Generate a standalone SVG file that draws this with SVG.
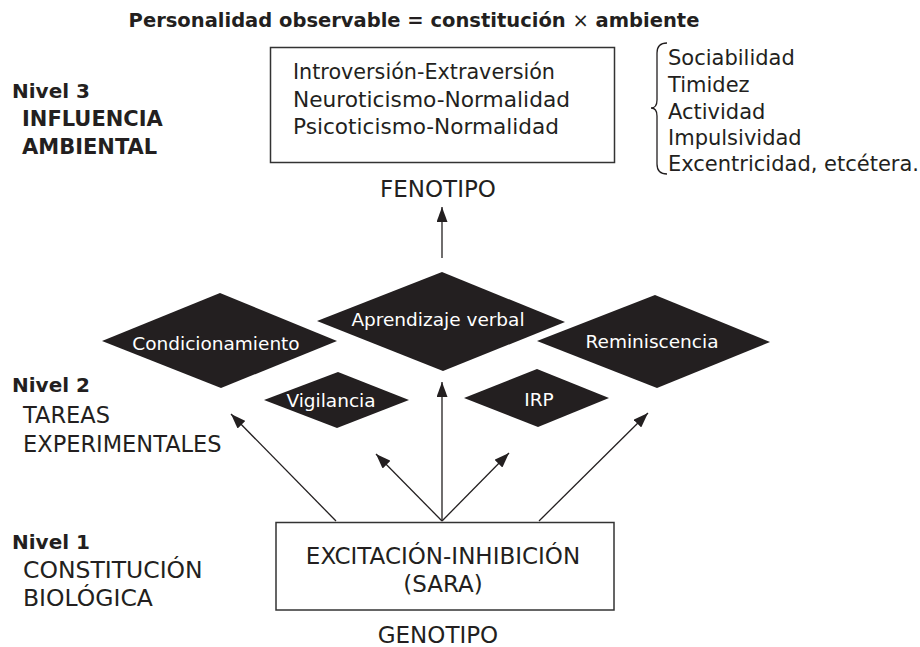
<svg xmlns="http://www.w3.org/2000/svg" width="920" height="647" viewBox="0 0 920 647">
  <style>
    text { font-family: "DejaVu Sans", "Liberation Sans", sans-serif; fill: #231f20; }
    .b { font-weight: bold; }
    .t { font-size: 21px; }
    .lg { font-size: 23px; }
    .lab { font-size: 22.5px; }
    .lab2 { font-size: 23.5px; }
    .lb { font-size: 20px; font-weight: bold; }
    .lb2 { font-size: 21px; font-weight: bold; }
    .dm { font-size: 18.5px; fill: #ffffff; text-anchor: middle; }
    .c { text-anchor: middle; }
    .box { fill: #ffffff; stroke: #333333; stroke-width: 1.5; }
    .dia { fill: #231f20; stroke: none; }
    .conn { stroke: #231f20; stroke-width: 1.3; fill: none; }
  </style>
  <defs>
    <marker id="ah" markerUnits="userSpaceOnUse" markerWidth="15" markerHeight="11" refX="15" refY="5.5" orient="auto">
      <path d="M0,0 L15,5.5 L0,11 Z" fill="#231f20"/>
    </marker>
  </defs>
  <rect width="920" height="647" fill="#ffffff"/>

  <text id="title" class="b" x="414" y="27" font-size="19.5" text-anchor="middle">Personalidad observable = constitución <tspan font-weight="normal">×</tspan> ambiente</text>

  <g id="levels">
    <text class="lb" x="12" y="98">Nivel 3</text>
    <text class="lb2" x="22" y="126">INFLUENCIA</text>
    <text class="lb2" x="22" y="154">AMBIENTAL</text>
    <text class="lb" x="12" y="392">Nivel 2</text>
    <text class="lab" x="23" y="423">TAREAS</text>
    <text class="lab" x="23" y="452">EXPERIMENTALES</text>
    <text class="lb" x="12" y="549">Nivel 1</text>
    <text class="lab2" x="23" y="578">CONSTITUCIÓN</text>
    <text class="lab2" x="23" y="606">BIOLÓGICA</text>
  </g>

  <g id="fenotipo">
    <rect class="box" x="270.5" y="47.5" width="344" height="115"/>
    <text class="t" x="293" y="79" textLength="262" lengthAdjust="spacingAndGlyphs">Introversión-Extraversión</text>
    <text class="t" x="293" y="106.5" textLength="277" lengthAdjust="spacingAndGlyphs">Neuroticismo-Normalidad</text>
    <text class="t" x="293" y="134" textLength="266" lengthAdjust="spacingAndGlyphs">Psicoticismo-Normalidad</text>
    <text class="lg c" x="438" y="197">FENOTIPO</text>
  </g>

  <g id="rasgos">
    <path class="conn" d="M667,43 Q657,43 657,53 L657,100 Q657,108 651,108 Q657,108 657,116 L657,164 Q657,174 667,174"/>
    <text class="t" x="668" y="65">Sociabilidad</text>
    <text class="t" x="668" y="92">Timidez</text>
    <text class="t" x="668" y="119">Actividad</text>
    <text class="t" x="668" y="145">Impulsividad</text>
    <text class="t" x="668" y="171">Excentricidad, etcétera.</text>
  </g>

  <g id="condicionamiento">
    <polygon class="dia" points="102,341 220,293 337,341 221,388"/>
    <text class="dm" x="216" y="350">Condicionamiento</text>
  </g>
  <g id="aprendizaje">
    <polygon class="dia" points="317,321 442,272 565,322 443,371"/>
    <text class="dm" x="438" y="326">Aprendizaje verbal</text>
  </g>
  <g id="reminiscencia">
    <polygon class="dia" points="537,341 655,295 770,342 657,388"/>
    <text class="dm" x="652" y="348">Reminiscencia</text>
  </g>
  <g id="vigilancia">
    <polygon class="dia" points="264,400 338,372 409,400 337,428"/>
    <text class="dm" x="331" y="407">Vigilancia</text>
  </g>
  <g id="irp">
    <polygon class="dia" points="464,398 537,369 609,398 538,427"/>
    <text class="dm" x="539" y="406">IRP</text>
  </g>

  <g id="genotipo">
    <rect class="box" x="276" y="522.5" width="338" height="87.5"/>
    <text class="lg c" x="443" y="564">EXCITACIÓN-INHIBICIÓN</text>
    <text class="lg c" x="443" y="592">(SARA)</text>
    <text class="lg c" x="438" y="643">GENOTIPO</text>
  </g>

  <g id="connectors">
    <line class="conn" x1="442" y1="258" x2="442" y2="207" marker-end="url(#ah)"/>
    <line class="conn" x1="336" y1="521" x2="231" y2="414" marker-end="url(#ah)"/>
    <line class="conn" x1="442" y1="521" x2="376" y2="454" marker-end="url(#ah)"/>
    <line class="conn" x1="442" y1="521" x2="442" y2="382" marker-end="url(#ah)"/>
    <line class="conn" x1="442" y1="521" x2="509" y2="453" marker-end="url(#ah)"/>
    <line class="conn" x1="539" y1="521" x2="648" y2="413" marker-end="url(#ah)"/>
  </g>
</svg>
